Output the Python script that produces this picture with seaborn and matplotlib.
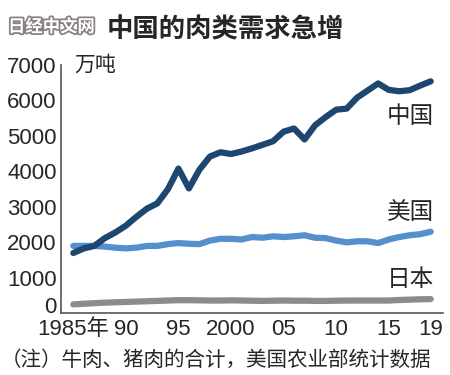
import numpy as np
import pandas as pd
import seaborn as sns
import matplotlib.pyplot as plt
import matplotlib.patheffects as pe

years = list(range(1985, 2020))
china = [1700, 1830, 1900, 2120, 2280, 2470, 2720, 2950, 3100, 3500,
         4080, 3520, 4050, 4420, 4540, 4490, 4560, 4650, 4750, 4850,
         5120, 5210, 4900, 5300, 5530, 5740, 5770, 6080, 6280, 6480,
         6300, 6260, 6290, 6420, 6540]
usa = [1900, 1900, 1900, 1880, 1850, 1830, 1850, 1900, 1900, 1950,
       1980, 1960, 1950, 2050, 2100, 2100, 2080, 2150, 2130, 2170,
       2150, 2170, 2200, 2130, 2120, 2050, 2000, 2030, 2030, 1980,
       2080, 2150, 2200, 2230, 2300]
japan = [250, 270, 285, 300, 310, 320, 330, 340, 350, 360,
         370, 370, 365, 360, 360, 365, 360, 355, 350, 355,
         360, 355, 355, 350, 350, 355, 360, 360, 360, 360,
         360, 375, 385, 395, 400]
names = ["中国", "美国", "日本"]
colors = ["#1d4670", "#5590cc", "#8c8c8c"]
xtick_years = [1985, 1990, 1995, 2000, 2005, 2010, 2015, 2019]
xtick_labels = ["1985年", "90", "95", "2000", "05", "10", "15", "19"]
yticks = [0, 1000, 2000, 3000, 4000, 5000, 6000, 7000]

df = pd.DataFrame({
    "year": years * 3,
    "value": china + usa + japan,
    "country": [n for n in names for _ in years],
})

sns.set_style("white")
num_font = ["Liberation Sans", "Noto Sans CJK SC"]
cjk_font = ["Noto Sans CJK SC", "DejaVu Sans"]
plt.rcParams["font.family"] = num_font

fig = plt.figure(figsize=(4.5, 3.75), dpi=100)
ax = fig.add_axes([60.7 / 450, 61.7 / 375, (443 - 60.7) / 450, (313.3 - 65) / 375])

sns.lineplot(data=df, x="year", y="value", hue="country", hue_order=names[::-1],
             palette=dict(zip(names, colors)), linewidth=4.5, legend=False, ax=ax,
             solid_capstyle="round")

ax.set_xlim(1983.8, 2020.17)
ax.set_ylim(0, 7000)
ax.set_xlabel("")
ax.set_ylabel("")
for s in ["top", "right"]:
    ax.spines[s].set_visible(False)
for s in ["left", "bottom"]:
    ax.spines[s].set_color("#555555")
    ax.spines[s].set_linewidth(1.2)

ax.set_yticks(yticks)
ax.set_yticklabels([str(v) for v in yticks], fontsize=16)
ax.get_yticklabels()[0].set_va("baseline")  # 0 稍微上移
ax.set_xticks(years, minor=True)
ax.set_xticks(xtick_years)
ax.set_xticklabels(xtick_labels, fontsize=16)
ax.tick_params(axis="y", direction="in", length=7, width=1, color="#555555", pad=3)
ax.tick_params(axis="x", which="both", direction="in", length=5, width=1, color="#555555", pad=4)

# 系列标签
ax.text(2019.3, 5550, "中国", fontsize=17, family=cjk_font, ha="right", va="center")
ax.text(2019.3, 2850, "美国", fontsize=17, family=cjk_font, ha="right", va="center")
ax.text(2019.3, 950, "日本", fontsize=17, family=cjk_font, ha="right", va="center")
ax.text(1985.1, 7000, "万吨", fontsize=15, family=cjk_font, ha="left", va="center")

fig.text(107 / 450, 1 - 30 / 375, "中国的肉类需求急增", fontsize=19, fontweight="bold",
         family=cjk_font, ha="left", va="center")
fig.text(8 / 450, 1 - 27 / 375, "日经中文网", fontsize=12.5, fontweight="bold",
         family=cjk_font, ha="left", va="center", color="white",
         path_effects=[pe.withStroke(linewidth=2.5, foreground="#8a7f7f")])
fig.text(1 / 450, 1 - 360 / 375, "（注）牛肉、猪肉的合计，美国农业部统计数据", fontsize=14.8,
         family=cjk_font, ha="left", va="center")

fig.savefig("out.png", dpi=100)
